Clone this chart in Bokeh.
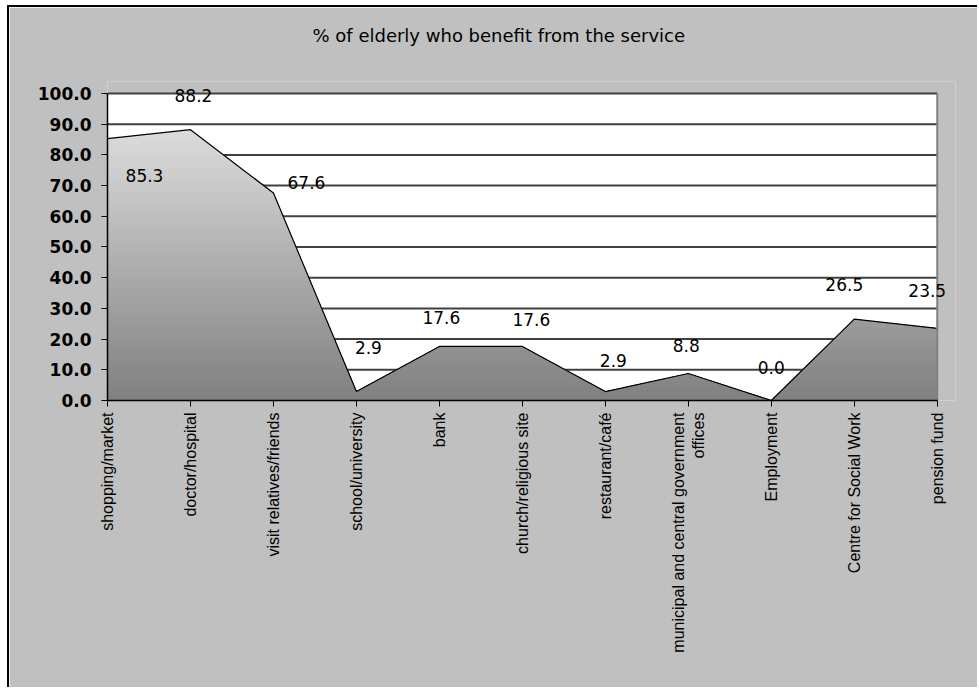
import numpy as np
from bokeh.plotting import figure
from bokeh.models import ColumnDataSource, FixedTicker, LabelSet, PrintfTickFormatter, Range1d, Title
from bokeh.core.properties import value
from bokeh.embed import file_html
from bokeh.resources import INLINE

# ---- data ----
categories = ["shopping/market", "doctor/hospital", "visit relatives/friends",
              "school/university", "bank", "church/religious site",
              "restaurant/café", "municipal and central government\noffices",
              "Employment", "Centre for Social Work", "pension fund"]
values = [85.3, 88.2, 67.6, 2.9, 17.6, 17.6, 2.9, 8.8, 0.0, 26.5, 23.5]
y_ticks = [0, 10, 20, 30, 40, 50, 60, 70, 80, 90, 100]
title_text = "% of elderly who benefit from the service"

# label placement (screen px offsets from each point), style only
label_dx = [37, 3, 33, 12, 2, 9, 8, -2, 0, -10, -10]
label_dy = [-37, 34, 10, 44, 29, 27, 31, 28, 33, 35, 38]

xs = list(range(len(categories)))
x_last = len(categories) - 1
y_top = y_ticks[-1]

p = figure(width=970, height=682, output_backend="svg", toolbar_location=None,
           x_range=Range1d(0, x_last + 0.22), y_range=Range1d(0, y_top + 3.9),
           min_border_left=98, min_border_top=73, min_border_right=24, min_border_bottom=289,
           background_fill_color="#C0C0C0", border_fill_color="#C0C0C0")
p.styles = {"margin-left": "7px", "margin-top": "5px",
            "border-left": "2px solid black", "border-top": "2px solid black"}

# spacer between the title and the plot area, then the title itself
spacer = Title(text=" ", text_font_size="1px", standoff=18)
p.add_layout(spacer, "above")
main_title = Title(text=title_text, align="left", offset=205,
                   text_font="DejaVu Sans", text_font_size="18px",
                   text_font_style="normal", text_color="black", standoff=30)
p.add_layout(main_title, "above")

p.outline_line_color = None
p.xgrid.visible = False
p.ygrid.visible = False

# plot area background and horizontal gridlines (behind the area)
p.quad(left=0, right=x_last, bottom=0, top=y_top, fill_color="white", line_color=None)
p.segment(x0=0, x1=x_last, y0=y_ticks[1:], y1=y_ticks[1:], line_color="#404040", line_width=2)

# gradient-filled area: bands clipped at successive caps
def clip_below(xv, yv, cap):
    ox, oy = [], []
    for i in range(len(xv)):
        if i > 0:
            y0, y1 = yv[i - 1], yv[i]
            if (y0 - cap) * (y1 - cap) < 0:
                t = (cap - y0) / (y1 - y0)
                ox.append(xv[i - 1] + t * (xv[i] - xv[i - 1]))
                oy.append(cap)
        ox.append(xv[i])
        oy.append(min(yv[i], cap))
    return ox, oy

top = max(values)
n_bands = 70
caps = np.linspace(top, 0, n_bands + 1)[:-1]
for cap in caps:
    mid = cap - top / n_bands / 2
    g = int(round(128 + (220 - 128) * max(mid, 0) / top))
    col = "#%02x%02x%02x" % (g, g, g)
    cx, cy = clip_below(xs, values, cap)
    p.varea(x=cx, y1=0, y2=cy, fill_color=col)

p.line(xs, values, line_color="black", line_width=1.2)

# right border of the plot area
p.segment(x0=[x_last], x1=[x_last], y0=[0], y1=[y_top], line_color="#808080", line_width=2)

# data labels
src = ColumnDataSource(dict(x=xs, y=values, t=["%.1f" % v for v in values],
                            dx=label_dx, dy=label_dy))
labels = LabelSet(x="x", y="y", text="t", source=src, x_offset="dx", y_offset="dy",
                  text_align="center", text_baseline="middle",
                  text_font=value("DejaVu Sans"), text_font_size=value("17px"),
                  text_color="black")
p.add_layout(labels)

# axes
p.xaxis.ticker = FixedTicker(ticks=xs)
p.xaxis.bounds = (0, x_last)
p.xaxis.major_label_overrides = {i: c for i, c in enumerate(categories)}
p.xaxis.major_label_orientation = np.pi / 2
p.xaxis.major_label_text_font = "Liberation Sans"
p.xaxis.major_label_text_font_size = "16px"
p.xaxis.major_label_standoff = 6

p.yaxis.ticker = FixedTicker(ticks=y_ticks)
p.yaxis.bounds = (0, y_top)
p.yaxis.formatter = PrintfTickFormatter(format="%.1f")
p.yaxis.major_label_text_font = "DejaVu Sans"
p.yaxis.major_label_text_font_style = "bold"
p.yaxis.major_label_text_font_size = "17px"
p.yaxis.major_label_standoff = 10

for ax in (p.xaxis[0], p.yaxis[0]):
    ax.axis_line_color = "black"
    ax.axis_line_width = 1.5
    ax.major_tick_line_color = "black"
    ax.major_tick_line_width = 1
    ax.major_tick_out = 6
    ax.major_tick_in = 0
    ax.minor_tick_line_color = None
    ax.major_label_text_color = "black"

open("out.html", "w").write(file_html(p, INLINE))
